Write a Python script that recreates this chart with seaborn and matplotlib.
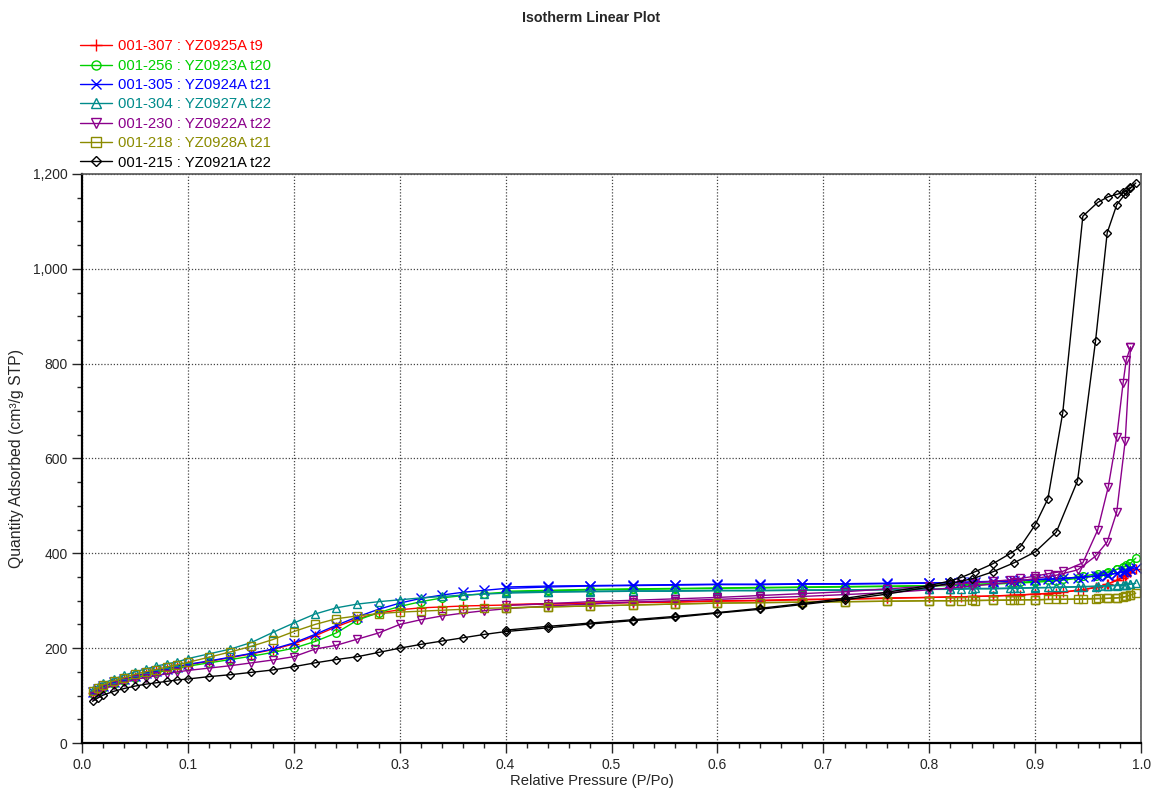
import numpy as np
import pandas as pd
import matplotlib
matplotlib.use('Agg')
import matplotlib.pyplot as plt
from matplotlib.lines import Line2D
from matplotlib.ticker import MultipleLocator, FuncFormatter
import seaborn as sns

# Relative pressure grids (adsorption / desorption)
ads_p = [0.01, 0.015, 0.02, 0.03, 0.04, 0.05, 0.06, 0.07, 0.08, 0.09, 0.10,
         0.12, 0.14, 0.16, 0.18, 0.20, 0.22, 0.24, 0.26, 0.28, 0.30, 0.32, 0.34,
         0.36, 0.38, 0.40, 0.44, 0.48, 0.52, 0.56, 0.60, 0.64, 0.68, 0.72, 0.76,
         0.80, 0.82, 0.84, 0.86, 0.88, 0.90, 0.92, 0.94, 0.957, 0.968, 0.977,
         0.985, 0.99, 0.995]
des_p = [0.99, 0.986, 0.983, 0.977, 0.969, 0.959, 0.945, 0.926, 0.912, 0.90,
         0.886, 0.876, 0.86, 0.843, 0.83, 0.82, 0.80, 0.76, 0.72, 0.68, 0.64,
         0.60, 0.56, 0.52, 0.48, 0.44, 0.40]

labels = ['001-307 : YZ0925A t9', '001-256 : YZ0923A t20', '001-305 : YZ0924A t21',
          '001-304 : YZ0927A t22', '001-230 : YZ0922A t22', '001-218 : YZ0928A t21',
          '001-215 : YZ0921A t22']

# Quantity adsorbed (cm3/g STP)
ads_307 = [106, 112, 119, 127, 134, 140, 146, 151, 156, 160, 165, 172, 180, 188, 197,
           209, 226, 245, 262, 274, 281, 285, 287, 289, 290, 291, 293, 294, 296, 297,
           299, 300, 302, 303, 305, 307, 308, 309, 310, 312, 314, 317, 322, 328, 335,
           343, 352, 360, 368]
des_307 = [360, 354, 349, 343, 336, 329, 323, 318, 315, 314, 312, 311, 310, 309, 308,
           308, 307, 306, 304, 303, 301, 300, 298, 297, 295, 294, 292]

ads_256 = [104, 110, 116, 124, 131, 137, 143, 148, 153, 157, 162, 169, 176, 183, 191,
           200, 214, 232, 259, 275, 288, 298, 306, 311, 315, 318, 321, 323, 324, 325,
           326, 327, 328, 329, 330, 331, 332, 333, 335, 337, 339, 342, 347, 353, 359,
           366, 372, 379, 390]
des_256 = [380, 375, 371, 366, 361, 357, 352, 346, 343, 341, 339, 338, 336, 335, 334,
           333, 332, 331, 330, 329, 328, 327, 326, 325, 324, 322, 320]

ads_305 = [107, 113, 120, 128, 135, 141, 147, 152, 157, 161, 166, 173, 181, 189, 198,
           211, 229, 248, 266, 282, 295, 305, 312, 318, 322, 326, 329, 331, 332, 333,
           334, 334, 335, 335, 336, 337, 338, 339, 340, 342, 344, 346, 349, 352, 355,
           358, 362, 366, 370]
des_305 = [366, 363, 361, 358, 355, 352, 350, 347, 346, 345, 343, 342, 341, 340, 339,
           338, 338, 337, 336, 336, 335, 335, 334, 333, 332, 331, 329]

ads_304 = [111, 118, 126, 135, 143, 150, 156, 162, 167, 171, 178, 188, 198, 212, 233,
           253, 272, 285, 293, 298, 302, 306, 309, 312, 314, 316, 318, 319, 320, 320,
           321, 321, 322, 322, 323, 324, 324, 325, 325, 326, 327, 328, 329, 330, 331,
           332, 333, 335, 337]
des_304 = [335, 334, 334, 333, 332, 331, 330, 329, 328, 328, 327, 327, 326, 326, 325,
           325, 325, 324, 323, 323, 322, 322, 321, 321, 320, 319, 318]

ads_230 = [100, 107, 114, 122, 128, 134, 138, 142, 146, 150, 153, 158, 163, 169, 175,
           182, 198, 206, 219, 232, 250, 260, 268, 274, 279, 283, 289, 293, 297, 300,
           303, 306, 309, 313, 317, 323, 327, 331, 335, 340, 347, 354, 365, 394, 424,
           487, 637, 835, np.nan]
des_230 = [835, 808, 759, 645, 540, 449, 380, 362, 357, 352, 347, 344, 341, 338, 336,
           334, 331, 325, 319, 315, 311, 307, 304, 301, 298, 294, 290]

ads_218 = [109, 116, 123, 131, 138, 145, 150, 155, 160, 165, 170, 181, 192, 204, 218,
           235, 250, 262, 268, 273, 276, 278, 280, 282, 284, 285, 287, 289, 291, 293,
           295, 296, 297, 298, 299, 300, 300, 301, 301, 302, 302, 303, 303, 304, 305,
           306, 309, 312, 316]
des_218 = [312, 309, 307, 306, 305, 305, 304, 303, 303, 302, 302, 301, 301, 300, 300,
           300, 300, 299, 298, 297, 296, 295, 293, 291, 289, 287, 285]

ads_215 = [88, 95, 101, 109, 115, 120, 124, 127, 130, 133, 135, 140, 144, 149, 154,
           161, 169, 176, 182, 191, 200, 208, 215, 222, 229, 235, 243, 251, 258, 265,
           274, 282, 292, 302, 314, 329, 337, 346, 361, 380, 403, 445, 553, 848, 1076,
           1135, 1158, 1170, 1181]
des_215 = [1172, 1165, 1161, 1157, 1152, 1140, 1111, 696, 515, 460, 414, 399, 378, 361,
           349, 342, 332, 318, 305, 294, 284, 275, 267, 260, 253, 246, 238]

ads_all = [ads_307, ads_256, ads_305, ads_304, ads_230, ads_218, ads_215]
des_all = [des_307, des_256, des_305, des_304, des_230, des_218, des_215]

colors = ['#ff0000', '#00d000', '#0000ff', '#008b8b', '#8b008b', '#8b8b00', '#000000']
markers = ['+', 'o', 'x', '^', 'v', 's', 'D']
msizes = [7, 5.5, 6.5, 5.5, 6, 5.5, 4.2]

sns.set_style('ticks')
plt.rcParams['font.family'] = ['Liberation Sans', 'DejaVu Sans']
plt.rcParams['font.size'] = 10

fig = plt.figure(figsize=(11.56, 7.88), dpi=100)
ax = fig.add_axes([0.0709, 0.0571, 0.9162, 0.7221])

handles = []
for i in range(len(labels)):
    for p, q in ((ads_p, ads_all[i]), (des_p, des_all[i])):
        df = pd.DataFrame({'p': p, 'q': q}).dropna()
        sns.lineplot(data=df, x='p', y='q', sort=False, estimator=None, ax=ax,
                     color=colors[i], linewidth=1.0, marker=markers[i],
                     markersize=msizes[i], markerfacecolor='none',
                     markeredgecolor=colors[i], markeredgewidth=1.0, legend=False)
    handles.append(Line2D([], [], color=colors[i], linewidth=1.0, marker=markers[i],
                          markersize=msizes[i] + 1, markerfacecolor='none',
                          markeredgecolor=colors[i], markeredgewidth=1.0))

ax.set_xlim(0, 1.0)
ax.set_ylim(0, 1200)
ax.xaxis.set_major_locator(MultipleLocator(0.1))
ax.xaxis.set_minor_locator(MultipleLocator(0.02))
ax.yaxis.set_major_locator(MultipleLocator(200))
ax.yaxis.set_minor_locator(MultipleLocator(50))
ax.xaxis.set_major_formatter(FuncFormatter(lambda v, _: f'{v:.1f}'))
ax.yaxis.set_major_formatter(FuncFormatter(lambda v, _: f'{v:,.0f}'))
ax.tick_params(which='major', direction='out', length=7, width=1, labelsize=10)
ax.tick_params(which='minor', direction='out', length=3.5, width=1)
ax.grid(True, which='major', color='#444444', linestyle=(0, (1, 1.5)), linewidth=0.9)

for side in ['left', 'bottom']:
    ax.spines[side].set_linewidth(1.6)
    ax.spines[side].set_color('black')
for side in ['top', 'right']:
    ax.spines[side].set_visible(True)
    ax.spines[side].set_linewidth(1.2)
    ax.spines[side].set_color('#555555')

ax.set_xlabel('Relative Pressure (P/Po)', fontsize=10.7, labelpad=2)
ax.xaxis.label.set_x(0.481)
ax.set_ylabel('Quantity Adsorbed (cm³/g STP)', fontsize=11.3, labelpad=6)

fig.text(0.511, 0.977, 'Isotherm Linear Plot', ha='center', va='center',
         fontsize=10.3, fontweight='bold')

fig.legend(handles, labels, loc='upper left', bbox_to_anchor=(0.069, 0.950),
           frameon=False, fontsize=10.7, handlelength=2.2, handletextpad=0.4,
           labelspacing=0.36, borderpad=0, borderaxespad=0, labelcolor='linecolor')

fig.savefig('out.png', dpi=100)
